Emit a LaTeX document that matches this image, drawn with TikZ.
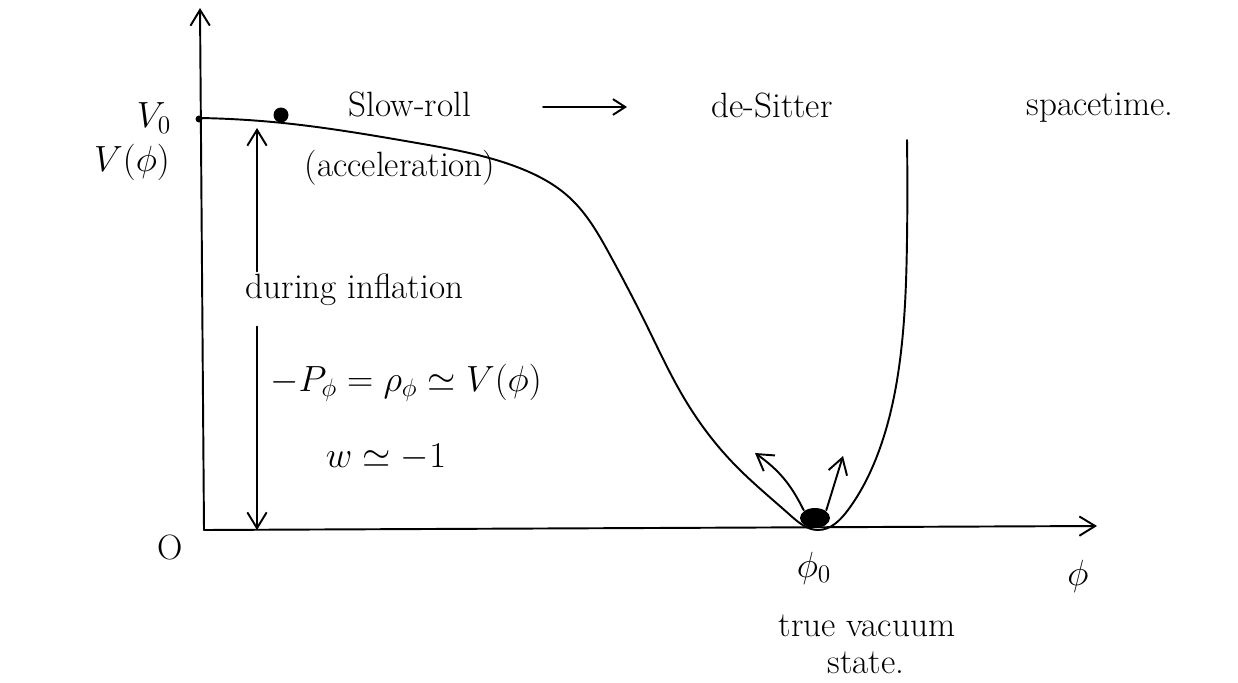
\documentclass[tikz,border=0pt]{standalone}
\usepackage{amsmath,amssymb}
\usetikzlibrary{arrows.meta,shapes.geometric,hobby}

\begin{document}
\begin{tikzpicture}[x=0.02cm, y=-0.02cm, line width=1.1pt, line cap=round,
  lab/.style={font=\fontsize{20}{24}\selectfont, inner sep=1pt},
  ball/.style={fill=black, inner sep=0pt, #1},
  >={Straight Barb[length=9pt, width=11pt]}]
  \useasboundingbox (0,0) rectangle (1238,683);
  % axes
  \coordinate (O) at (204,530);
  \coordinate (ytip) at (200,8);
  \coordinate (xtip) at (1097,526);
  \draw[->] (O) -- (ytip);
  \draw[->] (O) -- (xtip);
  \node[lab] (zero) at (170,547) {O};
  \node[lab] (vzero) at (154,118) {$V_0$};
  \node[ball={circle, minimum size=0.14cm}] (dot) at (199,119) {};
  \node[lab] (vphi) at (132,162) {$V(\phi)$};
  % potential
  \draw[use Hobby shortcut] (200,118) .. (283,123) .. (417,143) .. (517,167) .. (570,198)
        .. (610,255) .. (645,322) .. (687,403) .. (735,465) .. (790,515) .. (818,530)
        .. (848,510) .. (880,448) .. (900,360) .. (907,240) .. (907,140);
  % field at top and at the minimum
  \node[ball={circle, minimum size=0.3cm}] (top) at (281,115) {};
  \node[ball={ellipse, minimum width=0.6cm, minimum height=0.4cm}] (bot) at (815,518) {};
  \coordinate (kickL) at (755,453);
  \coordinate (kickR) at (843,456);
  \draw[->] (bot.north west) to[bend right=14] (kickL);
  \draw[->] (bot.north east) -- (kickR);
  % labels on top
  \node[lab] (roll) at (410,104) {Slow-roll};
  \node[lab] (ds) at (772,105) {de-Sitter};
  \node[lab] (st) at (1100,108) {spacetime.};
  \coordinate (r0) at (543,107);
  \coordinate (r1) at (627,107);
  \draw[->, >={Straight Barb[length=7pt, width=9pt]}] (r0) -- (r1);
  \node[lab] (acc) at (400,168) {(acceleration)};
  % height of the plateau
  \coordinate (htop) at (257,128);
  \coordinate (hbot) at (257,530);
  \node[lab, anchor=west] (dur) at (243,290) {during inflation};
  \draw[->] (dur.north -| htop) -- (htop);
  \draw[->] (dur.south -| hbot) ++(0,18) -- (hbot);
  \node[lab] (eos) at (406,383) {$-P_\phi = \rho_\phi \simeq V(\phi)$};
  \node[lab] (w) at (386,457) {$w \simeq -1$};
  % field values
  \node[lab] (phizero) at (814,568) {$\phi_0$};
  \node[lab] (phi) at (1078,576) {$\phi$};
  \node[lab] (vac) at (867,626) {true vacuum};
  \node[lab] (state) at (866,663) {state.};
\end{tikzpicture}
\end{document}
